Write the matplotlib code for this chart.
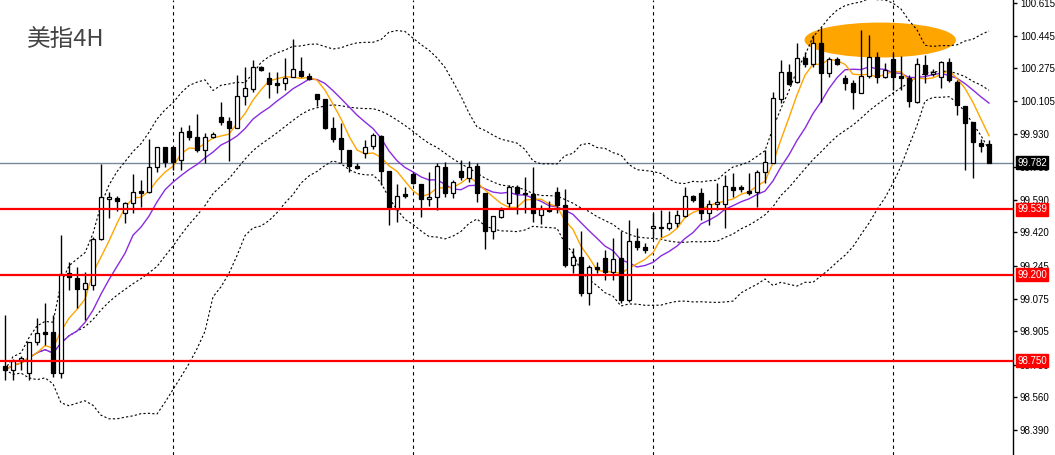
import matplotlib
matplotlib.use("Agg")
import matplotlib.pyplot as plt
from matplotlib.patches import Ellipse
from matplotlib.transforms import blended_transform_factory
import numpy as np
import pandas as pd

# 4H candles, oldest first
opens = [98.723, 98.703, 98.755, 98.687, 98.848, 98.901, 98.901, 98.687, 99.208, 99.182,
         99.125, 99.146, 99.385, 99.594, 99.599, 99.521, 99.573, 99.635, 99.630, 99.760,
         99.865, 99.865, 99.797, 99.948, 99.917, 99.849, 99.917, 100.021, 100.000, 99.964,
         100.130, 100.167, 100.282, 100.224, 100.198, 100.198, 100.229, 100.261, 100.235, 100.141,
         100.115, 99.964, 99.912, 99.849, 99.766, 99.833, 99.870, 99.922, 99.740, 99.542,
         99.620, 99.724, 99.672, 99.594, 99.604, 99.760, 99.625, 99.740, 99.703, 99.766,
         99.625, 99.427, 99.500, 99.573, 99.656, 99.625, 99.620, 99.510, 99.542, 99.630,
         99.562, 99.250, 99.291, 99.104, 99.239, 99.286, 99.213, 99.286, 99.067, 99.375,
         99.344, 99.443, 99.448, 99.443, 99.469, 99.505, 99.609, 99.625, 99.521, 99.568,
         99.568, 99.656, 99.656, 99.635, 99.630, 99.734, 99.781, 100.115, 100.255, 100.203,
         100.328, 100.297, 100.407, 100.250, 100.323, 100.224, 100.198, 100.146, 100.235, 100.334,
         100.229, 100.323, 100.235, 100.224, 100.099, 100.292, 100.245, 100.229, 100.308, 100.203,
         100.078, 99.995, 99.885, 99.880]
highs = [98.989, 98.760, 98.775, 98.848, 98.974, 99.052, 98.989, 99.406, 99.265, 99.239,
         99.213, 99.396, 99.776, 99.630, 99.609, 99.578, 99.724, 99.693, 99.906, 99.865,
         99.865, 99.865, 99.969, 99.979, 100.037, 99.938, 99.943, 100.099, 100.021, 100.240,
         100.282, 100.318, 100.287, 100.255, 100.255, 100.328, 100.427, 100.334, 100.250, 100.141,
         100.115, 100.021, 99.990, 99.849, 99.781, 99.901, 99.938, 99.927, 99.740, 99.672,
         99.656, 99.734, 99.672, 99.734, 99.781, 99.786, 99.693, 99.797, 99.792, 99.781,
         99.625, 99.505, 99.552, 99.667, 99.667, 99.708, 99.760, 99.562, 99.583, 99.656,
         99.646, 99.338, 99.427, 99.250, 99.265, 99.328, 99.391, 99.427, 99.484, 99.443,
         99.364, 99.521, 99.536, 99.531, 99.536, 99.656, 99.614, 99.651, 99.588, 99.677,
         99.719, 99.729, 99.667, 99.729, 99.745, 99.849, 100.151, 100.318, 100.297, 100.407,
         100.360, 100.448, 100.490, 100.334, 100.334, 100.240, 100.214, 100.474, 100.448, 100.360,
         100.302, 100.354, 100.339, 100.240, 100.328, 100.344, 100.271, 100.313, 100.328, 100.214,
         100.078, 99.995, 99.906, 99.901]
lows = [98.650, 98.650, 98.703, 98.650, 98.833, 98.833, 98.666, 98.661, 99.119, 99.026,
        98.963, 99.119, 99.380, 99.495, 99.531, 99.469, 99.521, 99.552, 99.625, 99.734,
        99.760, 99.745, 99.745, 99.901, 99.839, 99.781, 99.912, 99.979, 99.792, 99.964,
        100.083, 100.151, 100.261, 100.120, 100.146, 100.162, 100.229, 100.229, 100.214, 100.078,
        99.958, 99.891, 99.781, 99.734, 99.750, 99.807, 99.854, 99.667, 99.458, 99.474,
        99.599, 99.672, 99.500, 99.557, 99.536, 99.604, 99.599, 99.693, 99.682, 99.578,
        99.333, 99.385, 99.495, 99.552, 99.515, 99.521, 99.474, 99.463, 99.526, 99.521,
        99.239, 99.208, 99.088, 99.041, 99.208, 99.172, 99.172, 99.052, 99.057, 99.328,
        99.312, 99.391, 99.396, 99.432, 99.448, 99.500, 99.578, 99.484, 99.458, 99.536,
        99.443, 99.604, 99.630, 99.614, 99.552, 99.677, 99.781, 100.094, 100.188, 100.198,
        100.282, 100.282, 100.099, 100.229, 100.292, 100.162, 100.063, 100.146, 100.224, 100.198,
        100.224, 100.162, 100.162, 100.073, 100.094, 100.198, 100.235, 100.172, 100.203, 100.031,
        99.745, 99.703, 99.839, 99.781]
closes = [98.703, 98.749, 98.765, 98.848, 98.896, 98.890, 98.687, 99.203, 99.187, 99.125,
          99.156, 99.385, 99.604, 99.604, 99.583, 99.573, 99.630, 99.625, 99.760, 99.865,
          99.786, 99.786, 99.943, 99.917, 99.849, 99.917, 99.932, 99.995, 99.964, 100.130,
          100.172, 100.282, 100.266, 100.193, 100.188, 100.224, 100.271, 100.235, 100.219, 100.115,
          99.964, 99.906, 99.854, 99.766, 99.755, 99.865, 99.927, 99.740, 99.547, 99.609,
          99.609, 99.677, 99.594, 99.604, 99.766, 99.625, 99.682, 99.708, 99.760, 99.625,
          99.427, 99.505, 99.536, 99.656, 99.625, 99.620, 99.521, 99.542, 99.531, 99.562,
          99.250, 99.291, 99.104, 99.239, 99.229, 99.213, 99.281, 99.067, 99.375, 99.344,
          99.328, 99.453, 99.443, 99.469, 99.510, 99.609, 99.588, 99.521, 99.568, 99.578,
          99.661, 99.640, 99.646, 99.625, 99.734, 99.786, 100.120, 100.255, 100.193, 100.328,
          100.297, 100.407, 100.250, 100.323, 100.297, 100.198, 100.151, 100.235, 100.334, 100.229,
          100.266, 100.229, 100.224, 100.104, 100.297, 100.245, 100.255, 100.308, 100.214, 100.083,
          99.990, 99.891, 99.870, 99.782]

price_ticks = [100.615, 100.445, 100.275, 100.105, 99.930, 99.760, 99.590,
               99.420, 99.245, 99.075, 98.905, 98.730, 98.560, 98.390]
levels = [99.539, 99.200, 98.750]
last_price = 99.782
title = "美指4H"

df = pd.DataFrame({"open": opens, "high": highs, "low": lows, "close": closes})
x = np.arange(len(df))
ma5 = df["close"].rolling(5, min_periods=1).mean()
ma10 = df["close"].rolling(10, min_periods=1).mean()
mid = df["close"].rolling(20, min_periods=1).mean()
sd = df["close"].rolling(20, min_periods=1).std(ddof=0)
upper = mid + 2 * sd
lower = mid - 2 * sd

fig = plt.figure(figsize=(10.55, 4.55), dpi=100)
ax = fig.add_axes([0, 0, 1013 / 1055, 1])
ax.set_xlim(-0.625, 126)
ax.set_ylim(98.2596, 100.6306)

# marked zone
ax.add_patch(Ellipse((109.4, 100.422), 18.75, 0.175, color="#FFA500", zorder=1))

# period separators
for i in range(21, len(df), 30):
    ax.axvline(i, color="black", lw=0.8, ls=(0, (3, 3)), zorder=1.2)

ax.axhline(last_price, color="#778899", lw=1, zorder=1.5)

dots = (0, (2, 2))
ax.plot(x, upper, color="black", lw=0.8, ls=dots, zorder=2)
ax.plot(x, mid, color="black", lw=0.8, ls=dots, zorder=2)
ax.plot(x, lower, color="black", lw=0.8, ls=dots, zorder=2)
ax.plot(x, ma10, color="#8A2BE2", lw=1, zorder=2.2)
ax.plot(x, ma5, color="#FFA500", lw=1, zorder=2.3)

# candles
ax.vlines(x, df["low"], df["high"], color="black", lw=1, zorder=3)
up = df["close"] >= df["open"]
body_bot = np.minimum(df["open"], df["close"])
body_h = np.maximum((df["close"] - df["open"]).abs(), 0.004)
ax.bar(x[up], body_h[up], bottom=body_bot[up], width=0.6,
       facecolor="white", edgecolor="black", lw=0.9, zorder=4)
ax.bar(x[~up], body_h[~up], bottom=body_bot[~up], width=0.6,
       facecolor="black", edgecolor="black", lw=0.9, zorder=4)

for lv in levels:
    ax.axhline(lv, color="red", lw=1.6, zorder=5)

for s in ["top", "left", "bottom"]:
    ax.spines[s].set_visible(False)
ax.spines["right"].set_color("black")
ax.spines["right"].set_linewidth(1)
ax.set_xticks([])
ax.yaxis.tick_right()
ax.set_yticks(price_ticks)
ax.set_yticklabels([f"{v:.3f}" for v in price_ticks])
ax.tick_params(axis="y", length=3, width=1, pad=2, labelsize=7, colors="black")
for lab in ax.get_yticklabels():
    lab.set_family("Liberation Sans")

# price tags on the scale (they sit on top of the nearby tick labels, as in MT4)
tr = blended_transform_factory(ax.transAxes, ax.transData)
for lv in levels:
    ax.text(1.004, lv, f"{lv:.3f}", transform=tr, va="center", ha="left",
            fontsize=7, family="Liberation Sans", color="white", zorder=10,
            bbox=dict(boxstyle="square,pad=0.15", fc="red", ec="red"), clip_on=False)
ax.text(1.004, last_price, f"{last_price:.3f}", transform=tr, va="center", ha="left",
        fontsize=7, family="Liberation Sans", color="white", zorder=10,
        bbox=dict(boxstyle="square,pad=0.15", fc="black", ec="black"), clip_on=False)

fig.text(27 / 1055, 1 - 40 / 455, title, fontsize=17, color="#444444",
         va="center", ha="left", family=["Noto Sans CJK SC", "DejaVu Sans"])

fig.savefig("out.png", dpi=100, facecolor="white")
